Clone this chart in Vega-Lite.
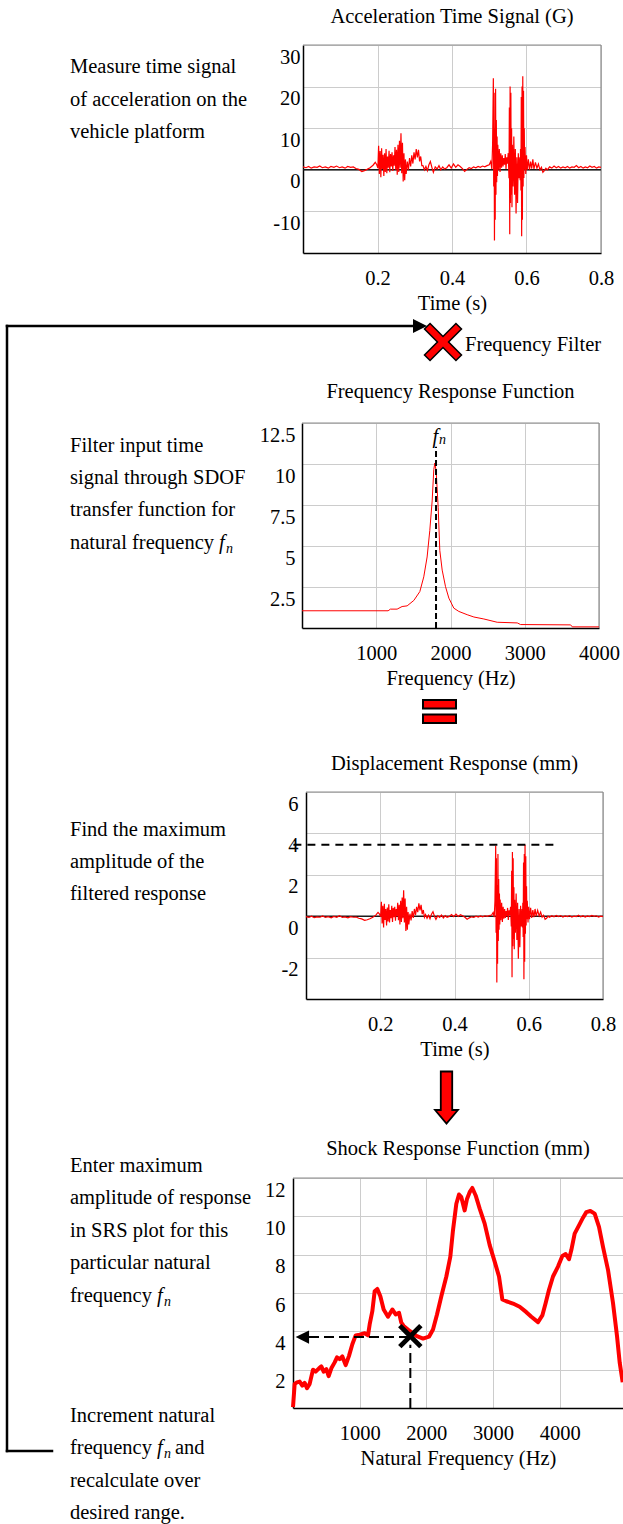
{
"$schema": "https://vega.github.io/schema/vega-lite/v6.json",
"padding": 0,
"background": "white",
"config": {
  "view": {"stroke": null},
  "font": "Liberation Serif",
  "title": {"font": "Liberation Serif", "fontSize": 20.5, "fontWeight": "normal", "color": "#000", "anchor": "middle", "frame": "group"},
  "axis": {"domainColor": "#000", "domainWidth": 1.5, "gridColor": "#cccccc", "gridWidth": 1, "ticks": false, "tickSize": 0, "labelFont": "Liberation Serif", "labelFontSize": 20.5, "labelColor": "#000", "titleFont": "Liberation Serif", "titleFontSize": 20.5, "titleFontWeight": "normal", "titleColor": "#000", "labelFlush": false, "labelOverlap": false, "labelExpr": "datum.value + ''"},
  "axisX": {"labelPadding": 15, "titlePadding": 5},
  "axisY": {"labelOffset": 12}
},
"datasets": {
  "segs": [{"x":7,"y":326,"x2":7,"y2":1451},{"x":7,"y":326,"x2":414,"y2":326},{"x":7,"y":1451,"x2":52,"y2":1451}],
  "texts": [
    {"x":70,"y":73,"text":"Measure time signal"},{"x":70,"y":105.5,"text":"of acceleration on the"},{"x":70,"y":138,"text":"vehicle platform"},
    {"x":465,"y":351,"text":"Frequency Filter"},
    {"x":70,"y":452,"text":"Filter input time"},{"x":70,"y":484,"text":"signal through SDOF"},{"x":70,"y":516,"text":"transfer function for"},{"x":70,"y":549,"text":"natural frequency"},
    {"x":70,"y":836,"text":"Find the maximum"},{"x":70,"y":868,"text":"amplitude of the"},{"x":70,"y":900,"text":"filtered response"},
    {"x":70,"y":1172,"text":"Enter maximum"},{"x":70,"y":1204,"text":"amplitude of response"},{"x":70,"y":1237,"text":"in SRS plot for this"},{"x":70,"y":1269,"text":"particular natural"},{"x":70,"y":1302,"text":"frequency"},
    {"x":70,"y":1422,"text":"Increment natural"},{"x":70,"y":1454,"text":"frequency"},{"x":175,"y":1454,"text":"and"},{"x":70,"y":1487,"text":"recalculate over"},{"x":70,"y":1519,"text":"desired range."}
  ],
  "fs": [{"x":219,"y":549,"text":"f"},{"x":157,"y":1302,"text":"f"},{"x":157,"y":1454,"text":"f"}],
  "ns": [{"x":226,"y":553,"text":"n"},{"x":164,"y":1306,"text":"n"},{"x":164,"y":1458,"text":"n"}],
  "acc": [
{"x":0,"y":0.7},{"x":0.008,"y":0.5},{"x":0.015,"y":0.8},{"x":0.022,"y":0.4},{"x":0.03,"y":0.7},{"x":0.038,"y":0.6},{"x":0.045,"y":0.9},{"x":0.052,"y":0.5},{"x":0.06,"y":0.7},{"x":0.068,"y":0.4},{"x":0.075,"y":0.8},{"x":0.083,"y":0.6},{"x":0.09,"y":0.9},{"x":0.098,"y":0.5},{"x":0.105,"y":0.7},{"x":0.113,"y":0.4},{"x":0.12,"y":0.8},{"x":0.128,"y":0.6},{"x":0.135,"y":0.7},{"x":0.142,"y":0.3},{"x":0.15,"y":0.1},{"x":0.158,"y":-0.4},{"x":0.165,"y":-0.2},{"x":0.172,"y":0.1},{"x":0.18,"y":0.5},{"x":0.188,"y":1.1},{"x":0.194,"y":1.8},{"x":0.198,"y":1.2},{"x":0.201,"y":0.4},
{"x":0.203,"y":5.8},{"x":0.205,"y":-1},{"x":0.207,"y":4.5},{"x":0.209,"y":-1.8},{"x":0.211,"y":5.2},{"x":0.213,"y":0.2},{"x":0.215,"y":3.6},{"x":0.217,"y":-1.5},{"x":0.219,"y":4},{"x":0.221,"y":-0.5},{"x":0.223,"y":5},{"x":0.225,"y":-0.8},{"x":0.227,"y":3.2},{"x":0.229,"y":0.5},{"x":0.231,"y":4.6},{"x":0.233,"y":-0.6},{"x":0.235,"y":3.8},{"x":0.237,"y":0.8},{"x":0.239,"y":4.2},{"x":0.241,"y":-0.3},{"x":0.243,"y":3.5},{"x":0.245,"y":1},{"x":0.247,"y":5.5},{"x":0.249,"y":0},{"x":0.251,"y":4.8},{"x":0.253,"y":-1.2},{"x":0.255,"y":6},{"x":0.257,"y":-0.5},{"x":0.259,"y":7},{"x":0.261,"y":0.5},{"x":0.263,"y":8.8},{"x":0.265,"y":-0.8},{"x":0.267,"y":6.5},{"x":0.269,"y":-2.8},{"x":0.271,"y":4},{"x":0.273,"y":-2.5},{"x":0.275,"y":2.5},{"x":0.277,"y":-1},{"x":0.28,"y":2},{"x":0.283,"y":0},{"x":0.286,"y":2.8},{"x":0.289,"y":0.8},{"x":0.292,"y":3.5},{"x":0.295,"y":1.5},{"x":0.298,"y":4.2},{"x":0.301,"y":2.5},{"x":0.304,"y":5},{"x":0.307,"y":3},{"x":0.31,"y":4.8},{"x":0.313,"y":2},{"x":0.316,"y":3.2},{"x":0.319,"y":1},{"x":0.322,"y":1},{"x":0.326,"y":0},{"x":0.33,"y":0.8},{"x":0.334,"y":-0.2},{"x":0.338,"y":1.2},{"x":0.342,"y":2},{"x":0.346,"y":0.6},{"x":0.35,"y":-0.6},{"x":0.355,"y":0.7},{"x":0.36,"y":0.2},{"x":0.365,"y":1},{"x":0.37,"y":0},{"x":0.375,"y":0.7},{"x":0.38,"y":0.2},{"x":0.386,"y":0.5},{"x":0.392,"y":1.2},{"x":0.398,"y":0.4},{"x":0.404,"y":1.4},{"x":0.41,"y":0.6},{"x":0.416,"y":1.2},{"x":0.422,"y":0.8},{"x":0.428,"y":0.3},{"x":0.434,"y":-0.4},{"x":0.44,"y":0.1},{"x":0.446,"y":0.5},{"x":0.452,"y":0.3},{"x":0.458,"y":0.7},{"x":0.464,"y":0.5},{"x":0.47,"y":0.8},{"x":0.476,"y":0.6},{"x":0.482,"y":0.9},{"x":0.488,"y":0.7},{"x":0.494,"y":1},{"x":0.5,"y":1.2},
{"x":0.504,"y":2},{"x":0.507,"y":0.2},{"x":0.509,"y":6},{"x":0.511,"y":22},{"x":0.512,"y":-4},{"x":0.513,"y":18.5},{"x":0.514,"y":-17},{"x":0.515,"y":10},{"x":0.516,"y":-12},{"x":0.517,"y":19.5},{"x":0.518,"y":-6},{"x":0.519,"y":12},{"x":0.52,"y":-3},{"x":0.521,"y":8},{"x":0.522,"y":-1.5},{"x":0.523,"y":6},{"x":0.525,"y":0},{"x":0.527,"y":5},{"x":0.529,"y":-0.5},{"x":0.531,"y":4},{"x":0.533,"y":0.5},{"x":0.535,"y":3.5},{"x":0.537,"y":0.8},{"x":0.539,"y":2.8},{"x":0.541,"y":1.2},{"x":0.543,"y":3.8},{"x":0.545,"y":0.2},{"x":0.547,"y":3},{"x":0.549,"y":1.5},{"x":0.551,"y":4},{"x":0.553,"y":-2},{"x":0.554,"y":15},{"x":0.555,"y":-15.5},{"x":0.556,"y":20},{"x":0.557,"y":-8},{"x":0.558,"y":18.5},{"x":0.559,"y":-6},{"x":0.56,"y":10},{"x":0.561,"y":-9},{"x":0.562,"y":6},{"x":0.564,"y":-4},{"x":0.566,"y":8},{"x":0.568,"y":-6},{"x":0.57,"y":5},{"x":0.572,"y":-10.5},{"x":0.574,"y":3},{"x":0.576,"y":-8},{"x":0.578,"y":4},{"x":0.58,"y":-2},{"x":0.582,"y":3},{"x":0.583,"y":-2.5},{"x":0.584,"y":5},{"x":0.585,"y":-5},{"x":0.586,"y":17.5},{"x":0.587,"y":-16},{"x":0.588,"y":20},{"x":0.589,"y":-12},{"x":0.59,"y":22.5},{"x":0.591,"y":-4},{"x":0.592,"y":19},{"x":0.593,"y":-2},{"x":0.594,"y":10},{"x":0.595,"y":0},{"x":0.596,"y":5.5},{"x":0.598,"y":-1},{"x":0.6,"y":3.5},{"x":0.602,"y":0},{"x":0.605,"y":2.5},{"x":0.608,"y":0},{"x":0.611,"y":2},{"x":0.614,"y":0.3},{"x":0.617,"y":2.5},{"x":0.62,"y":0.2},{"x":0.624,"y":1.8},{"x":0.628,"y":0.4},{"x":0.632,"y":1.4},{"x":0.636,"y":0},{"x":0.64,"y":0.6},{"x":0.644,"y":-0.6},{"x":0.648,"y":-0.2},{"x":0.652,"y":0.4},{"x":0.656,"y":0},{"x":0.662,"y":0.7},{"x":0.668,"y":0.4},{"x":0.674,"y":0.9},{"x":0.68,"y":0.5},{"x":0.686,"y":0.8},{"x":0.692,"y":0.4},{"x":0.698,"y":0.7},{"x":0.704,"y":0.5},{"x":0.71,"y":0.8},{"x":0.716,"y":0.4},{"x":0.722,"y":0.7},{"x":0.728,"y":0.6},{"x":0.734,"y":1},{"x":0.74,"y":0.5},{"x":0.746,"y":0.8},{"x":0.752,"y":0.4},{"x":0.758,"y":0.7},{"x":0.764,"y":0.5},{"x":0.77,"y":0.9},{"x":0.776,"y":0.6},{"x":0.782,"y":0.8},{"x":0.788,"y":0.4},{"x":0.794,"y":0.7},{"x":0.8,"y":0.6}
  ],
  "disp": [
{"x":0,"y":-0.02},{"x":0.008,"y":-0.06},{"x":0.015,"y":0},{"x":0.022,"y":-0.07},{"x":0.03,"y":-0.03},{"x":0.038,"y":-0.05},{"x":0.045,"y":0.01},{"x":0.052,"y":-0.06},{"x":0.06,"y":-0.02},{"x":0.068,"y":-0.08},{"x":0.075,"y":-0.01},{"x":0.083,"y":-0.05},{"x":0.09,"y":0.02},{"x":0.098,"y":-0.06},{"x":0.105,"y":-0.03},{"x":0.113,"y":-0.08},{"x":0.12,"y":-0.02},{"x":0.128,"y":-0.05},{"x":0.135,"y":-0.04},{"x":0.142,"y":-0.1},{"x":0.15,"y":-0.13},{"x":0.158,"y":-0.2},{"x":0.165,"y":-0.17},{"x":0.172,"y":-0.12},{"x":0.18,"y":-0.05},{"x":0.188,"y":0.05},{"x":0.194,"y":0.18},{"x":0.198,"y":0.1},{"x":0.201,"y":-0.03},
{"x":0.203,"y":0.7},{"x":0.205,"y":-0.35},{"x":0.207,"y":0.5},{"x":0.209,"y":-0.55},{"x":0.211,"y":0.6},{"x":0.213,"y":-0.18},{"x":0.215,"y":0.35},{"x":0.217,"y":-0.45},{"x":0.219,"y":0.42},{"x":0.221,"y":-0.25},{"x":0.223,"y":0.58},{"x":0.225,"y":-0.3},{"x":0.227,"y":0.3},{"x":0.229,"y":-0.1},{"x":0.231,"y":0.5},{"x":0.233,"y":-0.28},{"x":0.235,"y":0.4},{"x":0.237,"y":-0.05},{"x":0.239,"y":0.45},{"x":0.241,"y":-0.22},{"x":0.243,"y":0.35},{"x":0.245,"y":0},{"x":0.247,"y":0.65},{"x":0.249,"y":-0.2},{"x":0.251,"y":0.55},{"x":0.253,"y":-0.4},{"x":0.255,"y":0.75},{"x":0.257,"y":-0.28},{"x":0.259,"y":0.9},{"x":0.261,"y":-0.1},{"x":0.263,"y":1.25},{"x":0.265,"y":-0.3},{"x":0.267,"y":0.85},{"x":0.269,"y":-0.72},{"x":0.271,"y":0.45},{"x":0.273,"y":-0.65},{"x":0.275,"y":0.2},{"x":0.277,"y":-0.4},{"x":0.28,"y":0.12},{"x":0.283,"y":-0.2},{"x":0.286,"y":0.25},{"x":0.289,"y":-0.08},{"x":0.292,"y":0.35},{"x":0.295,"y":0.05},{"x":0.298,"y":0.45},{"x":0.301,"y":0.2},{"x":0.304,"y":0.62},{"x":0.307,"y":0.28},{"x":0.31,"y":0.55},{"x":0.313,"y":0.1},{"x":0.316,"y":0.3},{"x":0.319,"y":-0.05},{"x":0.322,"y":0.08},{"x":0.326,"y":-0.1},{"x":0.33,"y":0.05},{"x":0.334,"y":-0.12},{"x":0.338,"y":0.1},{"x":0.342,"y":0.22},{"x":0.346,"y":0},{"x":0.35,"y":-0.15},{"x":0.355,"y":0.02},{"x":0.36,"y":-0.06},{"x":0.365,"y":0.06},{"x":0.37,"y":-0.08},{"x":0.375,"y":0.03},{"x":0.38,"y":-0.05},{"x":0.386,"y":-0.01},{"x":0.392,"y":0.08},{"x":0.398,"y":-0.02},{"x":0.404,"y":0.1},{"x":0.41,"y":-0.01},{"x":0.416,"y":0.07},{"x":0.422,"y":0.02},{"x":0.428,"y":-0.05},{"x":0.434,"y":-0.15},{"x":0.44,"y":-0.08},{"x":0.446,"y":-0.03},{"x":0.452,"y":-0.06},{"x":0.458,"y":0},{"x":0.464,"y":-0.04},{"x":0.47,"y":0.01},{"x":0.476,"y":-0.03},{"x":0.482,"y":0.02},{"x":0.488,"y":-0.01},{"x":0.494,"y":0.03},{"x":0.5,"y":0.06},
{"x":0.504,"y":0.18},{"x":0.507,"y":-0.05},{"x":0.509,"y":0.75},{"x":0.511,"y":3.4},{"x":0.512,"y":-0.8},{"x":0.513,"y":2.8},{"x":0.514,"y":-3.2},{"x":0.515,"y":1.5},{"x":0.516,"y":-2.3},{"x":0.517,"y":3},{"x":0.518,"y":-1.2},{"x":0.519,"y":1.8},{"x":0.52,"y":-0.65},{"x":0.521,"y":1.1},{"x":0.522,"y":-0.4},{"x":0.523,"y":0.8},{"x":0.525,"y":-0.2},{"x":0.527,"y":0.65},{"x":0.529,"y":-0.28},{"x":0.531,"y":0.45},{"x":0.533,"y":-0.12},{"x":0.535,"y":0.35},{"x":0.537,"y":-0.08},{"x":0.539,"y":0.25},{"x":0.541,"y":0},{"x":0.543,"y":0.4},{"x":0.545,"y":-0.18},{"x":0.547,"y":0.28},{"x":0.549,"y":0.05},{"x":0.551,"y":0.45},{"x":0.553,"y":-0.5},{"x":0.554,"y":2.2},{"x":0.555,"y":-2.95},{"x":0.556,"y":3.1},{"x":0.557,"y":-1.45},{"x":0.558,"y":2.8},{"x":0.559,"y":-1.1},{"x":0.56,"y":1.4},{"x":0.561,"y":-1.6},{"x":0.562,"y":0.8},{"x":0.564,"y":-0.8},{"x":0.566,"y":1.1},{"x":0.568,"y":-1.15},{"x":0.57,"y":0.65},{"x":0.572,"y":-2.05},{"x":0.574,"y":0.35},{"x":0.576,"y":-1.5},{"x":0.578,"y":0.5},{"x":0.58,"y":-0.5},{"x":0.582,"y":0.35},{"x":0.583,"y":-0.55},{"x":0.584,"y":0.65},{"x":0.585,"y":-1},{"x":0.586,"y":2.6},{"x":0.587,"y":-3.05},{"x":0.588,"y":3},{"x":0.589,"y":-2.2},{"x":0.59,"y":3.45},{"x":0.591,"y":-0.85},{"x":0.592,"y":2.9},{"x":0.593,"y":-0.45},{"x":0.594,"y":1.45},{"x":0.595,"y":-0.15},{"x":0.596,"y":0.75},{"x":0.598,"y":-0.3},{"x":0.6,"y":0.45},{"x":0.602,"y":-0.15},{"x":0.605,"y":0.4},{"x":0.608,"y":-0.08},{"x":0.611,"y":0.3},{"x":0.614,"y":-0.05},{"x":0.617,"y":0.35},{"x":0.62,"y":0},{"x":0.624,"y":0.28},{"x":0.628,"y":0.02},{"x":0.632,"y":0.2},{"x":0.636,"y":-0.05},{"x":0.64,"y":0.05},{"x":0.644,"y":-0.15},{"x":0.648,"y":-0.1},{"x":0.652,"y":0},{"x":0.656,"y":-0.05},{"x":0.662,"y":0.02},{"x":0.668,"y":-0.03},{"x":0.674,"y":0.04},{"x":0.68,"y":-0.02},{"x":0.686,"y":0.03},{"x":0.692,"y":-0.04},{"x":0.698,"y":0.01},{"x":0.704,"y":-0.02},{"x":0.71,"y":0.03},{"x":0.716,"y":-0.04},{"x":0.722,"y":0},{"x":0.728,"y":-0.02},{"x":0.734,"y":0.05},{"x":0.74,"y":-0.03},{"x":0.746,"y":0.02},{"x":0.752,"y":-0.04},{"x":0.758,"y":0.01},{"x":0.764,"y":-0.02},{"x":0.77,"y":0.04},{"x":0.776,"y":-0.01},{"x":0.782,"y":0.02},{"x":0.788,"y":-0.04},{"x":0.794,"y":0},{"x":0.8,"y":-0.02}
  ],
  "frf": [
{"x":0,"y":1.05},{"x":1160,"y":1.05},{"x":1191,"y":1.15},{"x":1281,"y":1.15},{"x":1348,"y":1.31},{"x":1416,"y":1.35},{"x":1506,"y":1.68},{"x":1587,"y":2.22},{"x":1640,"y":3.12},{"x":1685,"y":4.33},{"x":1721,"y":5.94},{"x":1753,"y":7.75},{"x":1775,"y":9.66},{"x":1789,"y":10.06},{"x":1807,"y":9.56},{"x":1834,"y":7.35},{"x":1856,"y":4.73},{"x":1888,"y":3.53},{"x":1933,"y":2.52},{"x":1978,"y":1.82},{"x":2045,"y":1.21},{"x":2112,"y":1.01},{"x":2225,"y":0.81},{"x":2315,"y":0.67},{"x":2449,"y":0.55},{"x":2629,"y":0.35},{"x":2899,"y":0.31},{"x":2944,"y":0.21},{"x":3618,"y":0.19},{"x":3640,"y":0.07},{"x":4000,"y":0.07}
  ],
  "srs": [
{"x":0,"y":0.05},{"x":25,"y":1.26},{"x":60,"y":1.34},{"x":100,"y":1.38},{"x":140,"y":1.17},{"x":175,"y":1.31},{"x":210,"y":1.03},{"x":250,"y":1.26},{"x":300,"y":2},{"x":340,"y":1.9},{"x":390,"y":2.07},{"x":425,"y":2.17},{"x":460,"y":1.9},{"x":500,"y":2.03},{"x":535,"y":1.66},{"x":575,"y":2.07},{"x":625,"y":2.38},{"x":660,"y":2.64},{"x":700,"y":2.55},{"x":740,"y":2.69},{"x":790,"y":2.24},{"x":840,"y":2.72},{"x":890,"y":3.33},{"x":940,"y":3.79},{"x":1000,"y":3.83},{"x":1075,"y":3.9},{"x":1125,"y":3.79},{"x":1150,"y":4.36},{"x":1190,"y":5.05},{"x":1225,"y":6.09},{"x":1265,"y":6.21},{"x":1310,"y":5.83},{"x":1360,"y":5.14},{"x":1425,"y":4.76},{"x":1490,"y":5.14},{"x":1540,"y":4.88},{"x":1590,"y":4.97},{"x":1625,"y":4.45},{"x":1660,"y":4.28},{"x":1750,"y":4.02},{"x":1850,"y":3.76},{"x":1950,"y":3.62},{"x":2040,"y":3.72},{"x":2100,"y":4.1},{"x":2160,"y":4.88},{"x":2225,"y":5.83},{"x":2300,"y":6.86},{"x":2360,"y":7.9},{"x":2400,"y":9.28},{"x":2450,"y":10.66},{"x":2490,"y":11.14},{"x":2525,"y":11},{"x":2575,"y":10.31},{"x":2610,"y":10.91},{"x":2650,"y":11.26},{"x":2690,"y":11.48},{"x":2740,"y":11.09},{"x":2800,"y":10.4},{"x":2875,"y":9.62},{"x":2950,"y":8.5},{"x":3025,"y":7.64},{"x":3090,"y":6.86},{"x":3140,"y":5.66},{"x":3200,"y":5.57},{"x":3300,"y":5.45},{"x":3400,"y":5.28},{"x":3500,"y":5},{"x":3575,"y":4.76},{"x":3675,"y":4.48},{"x":3740,"y":4.83},{"x":3790,"y":5.48},{"x":3840,"y":6.17},{"x":3900,"y":6.86},{"x":3975,"y":7.38},{"x":4040,"y":7.93},{"x":4090,"y":8.03},{"x":4140,"y":7.76},{"x":4175,"y":8.24},{"x":4225,"y":9.1},{"x":4290,"y":9.53},{"x":4350,"y":9.93},{"x":4400,"y":10.22},{"x":4460,"y":10.28},{"x":4525,"y":10.14},{"x":4590,"y":9.45},{"x":4650,"y":8.41},{"x":4725,"y":7.21},{"x":4800,"y":5.48},{"x":4860,"y":3.76},{"x":4900,"y":2.38},{"x":4945,"y":1.34}
  ]
},
"hconcat": [
  {
    "width": 293, "height": 1524,
    "encoding": {
      "x": {"field": "x", "type": "quantitative", "scale": {"domain": [0, 293], "nice": false, "zero": false}, "axis": null},
      "y": {"field": "y", "type": "quantitative", "scale": {"domain": [0, 1524], "nice": false, "zero": false, "reverse": true}, "axis": null}
    },
    "layer": [
      {"data": {"name": "segs"}, "mark": {"type": "rule", "color": "#000", "strokeWidth": 2.5, "strokeCap": "square"}, "encoding": {"x2": {"field": "x2"}, "y2": {"field": "y2"}}},
      {"data": {"values": [{"x": 420, "y": 326}]}, "mark": {"type": "point", "shape": "M-1,-1L1,0L-1,1Z", "size": 196, "filled": true, "fill": "#000", "opacity": 1, "strokeWidth": 0}},
      {"data": {"values": [{"x": 443, "y": 342}]}, "mark": {"type": "point", "shape": "M-0.7,-1L0,-0.3L0.7,-1L1,-0.7L0.3,0L1,0.7L0.7,1L0,0.3L-0.7,1L-1,0.7L-0.3,0L-1,-0.7Z", "size": 1369, "filled": true, "fill": "#ff0000", "stroke": "#000", "strokeWidth": 1.5, "opacity": 1}},
      {"data": {"values": [{"x": 423, "x2": 456, "y": 700, "y2": 708.5}, {"x": 423, "x2": 456, "y": 714.5, "y2": 723}]}, "mark": {"type": "rect", "fill": "#ff0000", "stroke": "#000", "strokeWidth": 2}, "encoding": {"x2": {"field": "x2"}, "y2": {"field": "y2"}}},
      {"data": {"values": [{"x": 446.5, "y": 1097.5}]}, "mark": {"type": "point", "shape": "M-0.22,-1L0.22,-1L0.22,0.48L0.44,0.48L0,1L-0.44,0.48L-0.22,0.48Z", "size": 2704, "filled": true, "fill": "#ff0000", "stroke": "#000", "strokeWidth": 1.8, "opacity": 1}},
      {"data": {"name": "texts"}, "mark": {"type": "text", "align": "left", "baseline": "alphabetic", "fontSize": 20.5, "font": "Liberation Serif", "color": "#000"}, "encoding": {"text": {"field": "text"}}},
      {"data": {"name": "fs"}, "mark": {"type": "text", "align": "left", "baseline": "alphabetic", "fontSize": 20.5, "fontStyle": "italic", "font": "Liberation Serif", "color": "#000"}, "encoding": {"text": {"field": "text"}}},
      {"data": {"name": "ns"}, "mark": {"type": "text", "align": "left", "baseline": "alphabetic", "fontSize": 14, "fontStyle": "italic", "font": "Liberation Serif", "color": "#000"}, "encoding": {"text": {"field": "text"}}}
    ]
  },
  {
    "spacing": 0, "bounds": "flush",
    "vconcat": [
      {"width": 1, "height": 45, "data": {"values": [{}]}, "mark": {"type": "text", "text": ""}},
      {
        "width": 308, "height": 208,
        "title": {"text": "Acceleration Time Signal (G)", "offset": 17, "dx": 5},
        "encoding": {
          "x": {"field": "x", "type": "quantitative", "scale": {"domain": [0, 0.8], "range": [10, 308], "nice": false, "zero": false}, "axis": {"values": [0.2, 0.4, 0.6, 0.8], "title": "Time (s)"}},
          "y": {"field": "y", "type": "quantitative", "scale": {"domain": [-20, 30], "nice": false, "zero": false}, "axis": {"values": [-10, 0, 10, 20, 30], "title": null, "labelPadding": 3, "offset": -10}}
        },
        "layer": [
          {"data": {"values": [{"x": 0, "x2": 0.8, "y": 30}]}, "mark": {"type": "rule", "color": "#8c8c8c", "strokeWidth": 1.2}, "encoding": {"x2": {"field": "x2"}}},
          {"data": {"values": [{"x": 0.8, "y": -20, "y2": 30}]}, "mark": {"type": "rule", "color": "#8c8c8c", "strokeWidth": 1.2}, "encoding": {"y2": {"field": "y2"}}},
          {"data": {"values": [{"x": 0, "x2": 0.8, "y": 0}]}, "mark": {"type": "rule", "color": "#1a1a1a", "strokeWidth": 1.5}, "encoding": {"x2": {"field": "x2"}}},
          {"data": {"name": "acc"}, "mark": {"type": "line", "color": "#ff0000", "strokeWidth": 1.2}}
        ]
      },
      {"width": 1, "height": 170, "data": {"values": [{}]}, "mark": {"type": "text", "text": ""}},
      {
        "width": 306, "height": 205,
        "title": {"text": "Frequency Response Function", "offset": 20, "dx": 4.5},
        "encoding": {
          "x": {"field": "x", "type": "quantitative", "scale": {"domain": [0, 4000], "range": [9, 306], "nice": false, "zero": false}, "axis": {"values": [1000, 2000, 3000, 4000], "title": "Frequency (Hz)"}},
          "y": {"field": "y", "type": "quantitative", "scale": {"domain": [0, 12.5], "nice": false, "zero": false}, "axis": {"values": [2.5, 5, 7.5, 10, 12.5], "title": null, "labelPadding": 7, "offset": -9}}
        },
        "layer": [
          {"data": {"values": [{"x": 0, "x2": 4000, "y": 12.5}]}, "mark": {"type": "rule", "color": "#8c8c8c", "strokeWidth": 1.2}, "encoding": {"x2": {"field": "x2"}}},
          {"data": {"values": [{"x": 4000, "y": 0, "y2": 12.5}]}, "mark": {"type": "rule", "color": "#8c8c8c", "strokeWidth": 1.2}, "encoding": {"y2": {"field": "y2"}}},
          {"data": {"name": "frf"}, "mark": {"type": "line", "color": "#ff0000", "strokeWidth": 1}},
          {"data": {"values": [{"x": 1805, "y": 0, "y2": 11.05}]}, "mark": {"type": "rule", "color": "#000", "strokeWidth": 2, "strokeDash": [6, 3]}, "encoding": {"y2": {"field": "y2"}}},
          {"data": {"values": [{"x": 1797, "y": 11.66, "text": "f"}]}, "mark": {"type": "text", "fontSize": 20.5, "fontStyle": "italic", "baseline": "middle", "align": "center", "color": "#000"}, "encoding": {"text": {"field": "text"}}},
          {"data": {"values": [{"x": 1891, "y": 11.48, "text": "n"}]}, "mark": {"type": "text", "fontSize": 14, "fontStyle": "italic", "baseline": "middle", "align": "center", "color": "#000"}, "encoding": {"text": {"field": "text"}}}
        ]
      },
      {"width": 1, "height": 164, "data": {"values": [{}]}, "mark": {"type": "text", "text": ""}},
      {
        "width": 310, "height": 207,
        "title": {"text": "Displacement Response (mm)", "offset": 17, "dx": 6.5},
        "encoding": {
          "x": {"field": "x", "type": "quantitative", "scale": {"domain": [0, 0.8], "range": [13, 310], "nice": false, "zero": false}, "axis": {"values": [0.2, 0.4, 0.6, 0.8], "title": "Time (s)"}},
          "y": {"field": "y", "type": "quantitative", "scale": {"domain": [-4, 6], "nice": false, "zero": false}, "axis": {"values": [-2, 0, 2, 4, 6], "title": null, "labelPadding": 8, "offset": -13}}
        },
        "layer": [
          {"data": {"values": [{"x": 0, "x2": 0.8, "y": 6}]}, "mark": {"type": "rule", "color": "#8c8c8c", "strokeWidth": 1.2}, "encoding": {"x2": {"field": "x2"}}},
          {"data": {"values": [{"x": 0.8, "y": -4, "y2": 6}]}, "mark": {"type": "rule", "color": "#8c8c8c", "strokeWidth": 1.2}, "encoding": {"y2": {"field": "y2"}}},
          {"data": {"values": [{"x": 0, "x2": 0.8, "y": 0}]}, "mark": {"type": "rule", "color": "#1a1a1a", "strokeWidth": 1.5}, "encoding": {"x2": {"field": "x2"}}},
          {"data": {"name": "disp"}, "mark": {"type": "line", "color": "#ff0000", "strokeWidth": 1.2}},
          {"data": {"values": [{"x": -0.034, "x2": 0.675, "y": 3.45}]}, "mark": {"type": "rule", "color": "#000", "strokeWidth": 2, "strokeDash": [8, 6]}, "encoding": {"x2": {"field": "x2"}}}
        ]
      },
      {"width": 1, "height": 179, "data": {"values": [{}]}, "mark": {"type": "text", "text": ""}},
      {
        "width": 330, "height": 230,
        "title": {"text": "Shock Response Function (mm)", "offset": 18},
        "encoding": {
          "x": {"field": "x", "type": "quantitative", "scale": {"domain": [0, 4950], "nice": false, "zero": false}, "axis": {"values": [1000, 2000, 3000, 4000], "title": "Natural Frequency (Hz)"}},
          "y": {"field": "y", "type": "quantitative", "scale": {"domain": [0, 12], "nice": false, "zero": false}, "axis": {"values": [2, 4, 6, 8, 10, 12], "title": null, "labelPadding": 8}}
        },
        "layer": [
          {"data": {"values": [{"x": 0, "x2": 4950, "y": 12}]}, "mark": {"type": "rule", "color": "#8c8c8c", "strokeWidth": 1.2}, "encoding": {"x2": {"field": "x2"}}},
          {"data": {"name": "srs"}, "mark": {"type": "line", "color": "#ff0000", "strokeWidth": 4, "strokeJoin": "round"}},
          {"data": {"values": [{"x": 240, "x2": 1760, "y": 3.7}]}, "mark": {"type": "rule", "color": "#000", "strokeWidth": 2, "strokeDash": [10, 5]}, "encoding": {"x2": {"field": "x2"}}},
          {"data": {"values": [{"x": 1760, "y": 0, "y2": 3.3}]}, "mark": {"type": "rule", "color": "#000", "strokeWidth": 2, "strokeDash": [10, 5]}, "encoding": {"y2": {"field": "y2"}}},
          {"data": {"values": [{"x": 140, "y": 3.7}]}, "mark": {"type": "point", "shape": "M1,-1L-1,0L1,1Z", "size": 180, "filled": true, "fill": "#000", "opacity": 1, "strokeWidth": 0}},
          {"data": {"values": [{"x": 1760, "y": 3.75}]}, "mark": {"type": "point", "shape": "M-0.72,-1L0,-0.28L0.72,-1L1,-0.72L0.28,0L1,0.72L0.72,1L0,0.28L-0.72,1L-1,0.72L-0.28,0L-1,-0.72Z", "size": 600, "filled": true, "fill": "#000", "opacity": 1, "strokeWidth": 0}}
        ]
      }
    ]
  }
],
"spacing": 0,
"bounds": "flush"
}
